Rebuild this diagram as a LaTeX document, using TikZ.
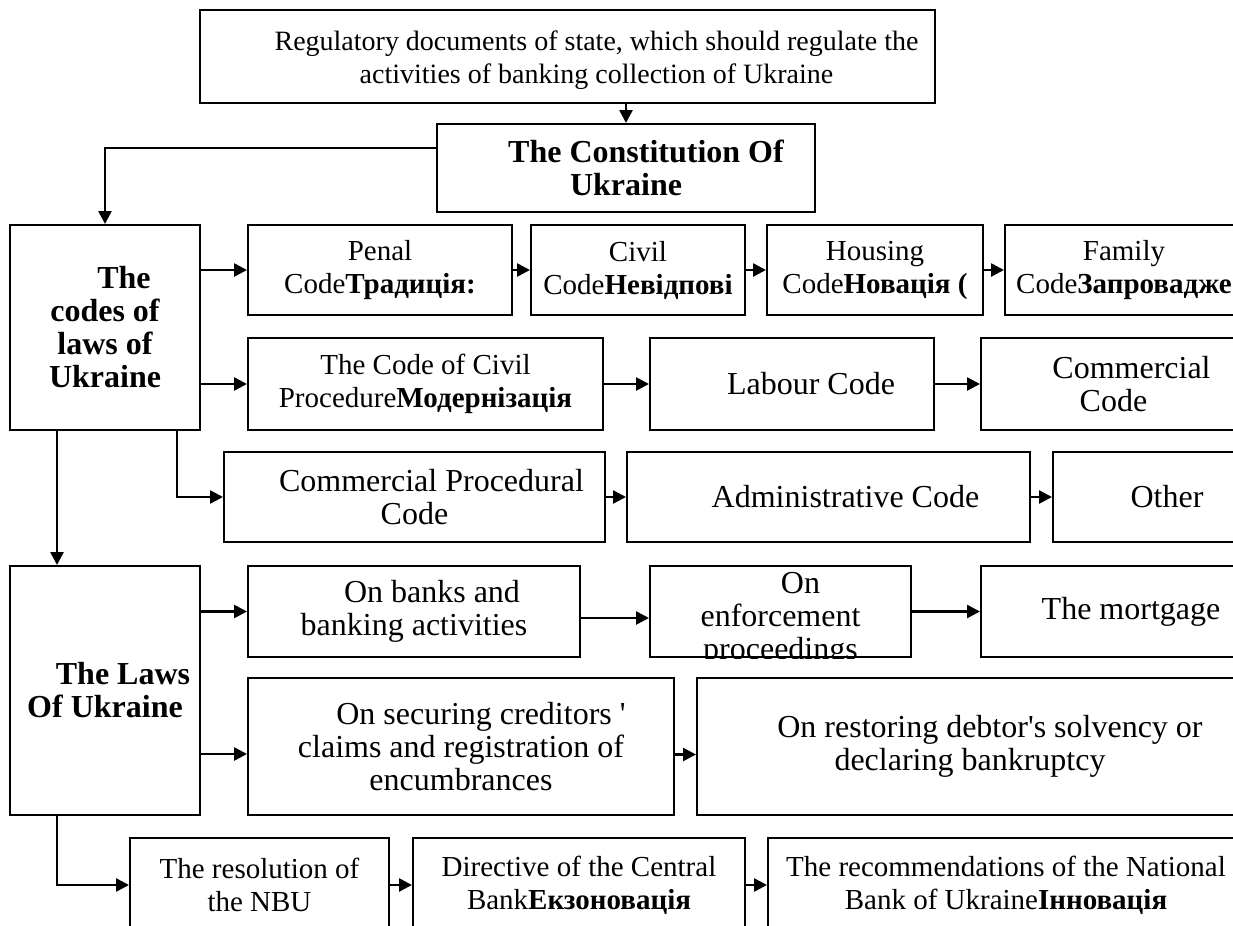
\documentclass[tikz,border=0pt]{standalone}
\usepackage{fontspec}
\setmainfont{Liberation Serif}
\usetikzlibrary{arrows.meta,fit,calc}
\begin{document}
\begin{tikzpicture}[x=0.5pt,y=-0.5pt,
  box/.style={draw, line width=1pt, inner sep=0pt},
  lbl/.style={inner sep=0pt, align=center, font=\fontsize{14.5pt}{16.5pt}\selectfont},
  big/.style={lbl, font=\fontsize{16pt}{16.5pt}\selectfont},
  head/.style={lbl, font=\fontsize{16pt}{16.5pt}\selectfont\bfseries},
  arr/.style={line width=1.3pt, -{Triangle[length=6.5pt,width=6.5pt]}}
]
\useasboundingbox (0,0) rectangle (1233,926);
\clip (0,0) rectangle (1233,926);

% ---- frames ----
\node[box, fit={(200,10) (935,103)}] (top) {};
\node[box, fit={(437,124) (815,212)}] (const) {};
\node[box, fit={(10,225) (200,430)}] (codes) {};
\node[box, fit={(248,225) (512,315)}] (penal) {};
\node[box, fit={(531,225) (745,315)}] (civil) {};
\node[box, fit={(767,225) (983,315)}] (housing) {};
\node[box, fit={(1005,225) (1243,315)}] (family) {};
\node[box, fit={(248,338) (603,430)}] (cproc) {};
\node[box, fit={(650,338) (934,430)}] (labour) {};
\node[box, fit={(981,338) (1246,430)}] (comm) {};
\node[box, fit={(224,452) (605,542)}] (comproc) {};
\node[box, fit={(627,452) (1030,542)}] (admin) {};
\node[box, fit={(1053,452) (1281,542)}] (other) {};
\node[box, fit={(10,566) (200,815)}] (laws) {};
\node[box, fit={(248,566) (580,657)}] (banks) {};
\node[box, fit={(650,566) (911,657)}] (enf) {};
\node[box, fit={(981,566) (1281,657)}] (mort) {};
\node[box, fit={(248,678) (674,815)}] (secur) {};
\node[box, fit={(697,678) (1243,815)}] (restor) {};
\node[box, fit={(130,838) (389,932)}] (nbu) {};
\node[box, fit={(413,838) (745,932)}] (dir) {};
\node[box, fit={(768,838) (1244,932)}] (recs) {};

% ---- texts ----
\node[lbl, font=\fontsize{14pt}{16.5pt}\selectfont] (top-t) at ([yshift=-2pt]top.center)
  {\hspace*{29pt}Regulatory documents of state, which should regulate the\\
   \hspace*{29pt}activities of banking collection of Ukraine};
\node[head] (const-t) at (const.center)
  {\hspace*{20pt}The Constitution Of\\Ukraine};
\node[head] (codes-t) at (codes.center)
  {\hspace*{19pt}The\\codes of\\laws of\\Ukraine};
\node[lbl] (penal-t) at (penal.center) {Penal\\Code\textbf{Традиція:}};
\node[lbl] (civil-t) at (civil.center) {Civil\\Code\textbf{Невідпові}};
\node[lbl] (housing-t) at (housing.center) {Housing\\Code\textbf{Новація (}};
\node[lbl] (family-t) at (family.center) {Family\\Code\textbf{Запровадже}};
\node[lbl] (cproc-t) at (cproc.center) {The Code of Civil\\Procedure\textbf{Модернізація}};
\node[big] (labour-t) at (labour.center) {\hspace*{19pt}Labour Code};
\node[big] (comm-t) at (comm.center) {\hspace*{18pt}Commercial\\Code};
\node[big] (comproc-t) at (comproc.center) {\hspace*{17pt}Commercial Procedural\\Code};
\node[big] (admin-t) at (admin.center) {\hspace*{17pt}Administrative Code};
\node[big] (other-t) at (other.center) {Other};
\node[head] (laws-t) at (laws.center) {\hspace*{18pt}The Laws\\Of Ukraine};
\node[big] (banks-t) at (banks.center) {\hspace*{18pt}On banks and\\banking activities};
\begin{scope}
  % this text runs past the bottom of its frame and is cut there
  \clip (enf.south west) rectangle (enf.north east);
  \node[big] (enf-t) at ([yshift=-4pt]enf.center) {\hspace*{20pt}On\\enforcement\\proceedings};
\end{scope}
\node[big] (mort-t) at (mort.center) {The mortgage};
\node[big] (secur-t) at (secur.center)
  {\hspace*{20pt}On securing creditors \textquotesingle\\claims and registration of\\encumbrances};
\node[big] (restor-t) at (restor.center)
  {\hspace*{20pt}On restoring debtor\textquotesingle s solvency or\\declaring bankruptcy};
\node[lbl] (nbu-t) at (nbu.center) {The resolution of\\the NBU};
\node[lbl] (dir-t) at (dir.center) {Directive of the Central\\Bank\textbf{Екзоновація}};
\node[lbl] (recs-t) at (recs.center)
  {The recommendations of the National\\Bank of Ukraine\textbf{Інновація}};

% ---- connectors ----
\draw[arr] (const.north |- top.south) -- (const.north);
\draw[arr] ([yshift=10pt]const.west) -| (codes.north);

\draw[arr] (codes.east |- penal.west) -- (penal.west);
\draw[arr] (penal.east) -- (civil.west);
\draw[arr] (civil.east) -- (housing.west);
\draw[arr] (housing.east) -- (family.west);

\draw[arr] (codes.east |- cproc.west) -- (cproc.west);
\draw[arr] (cproc.east) -- (labour.west);
\draw[arr] (labour.east) -- (comm.west);

\draw[arr] ([xshift=-12pt]codes.south east) |- (comproc.west);
\draw[arr] (comproc.east) -- (admin.west);
\draw[arr] (admin.east) -- (other.west);

\draw[arr] ([xshift=24pt]codes.south west) -- ([xshift=24pt]laws.north west);

\draw[arr] (laws.east |- banks.west) -- (banks.west);
\draw[arr] ([yshift=-3.25pt]banks.east) -- ([yshift=-3.25pt]enf.west);
\draw[arr] (enf.east) -- (mort.west);

\draw[arr] ([yshift=-3.75pt]laws.east |- secur.west) -- ([yshift=-3.75pt]secur.west);
\draw[arr] ([yshift=-4pt]secur.east) -- ([yshift=-4pt]secur.east -| restor.west);

\draw[arr] ([xshift=24pt]laws.south west) |- (nbu.west);
\draw[arr] (nbu.east) -- (dir.west);
\draw[arr] (dir.east) -- (recs.west);
\end{tikzpicture}
\end{document}
